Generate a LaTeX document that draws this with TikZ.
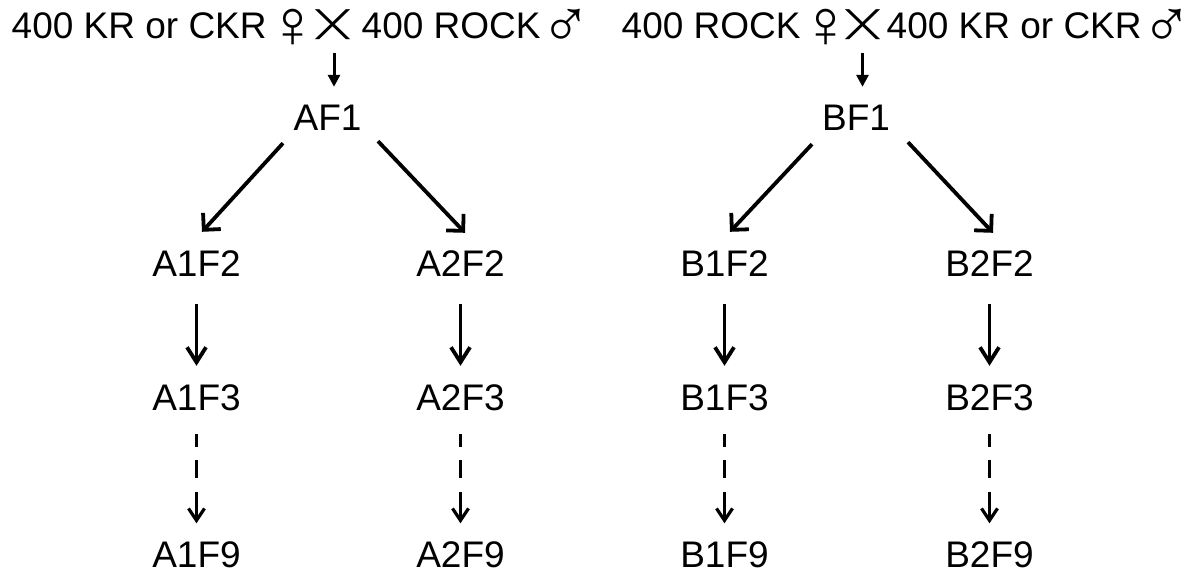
\documentclass[tikz,border=0pt]{standalone}
\usepackage{fontspec}
\usepackage{graphicx}
\setmainfont{Liberation Sans}
\newfontfamily\symfont{DejaVu Sans}
\usetikzlibrary{arrows.meta}
\newcommand\mycross{\resizebox*{31pt}{30pt}{\symfont ╳}}
\newcommand\gsym[1]{\raisebox{-9pt}{\fontsize{68}{70}\selectfont #1}\kern-14pt}
\begin{document}
\begin{tikzpicture}[x=1pt,y=-1pt,
  every node/.style={font=\fontsize{37}{44}\selectfont},
  lbl/.style={inner sep=0pt,anchor=base,text height=26.5pt,text depth=0pt},
  ttl/.style={inner sep=0pt,anchor=base west},
  crs/.style={inner sep=0pt,anchor=center},
  toparr/.style={line width=3pt,-{Triangle[length=12pt,width=12pt]}},
  diagarr/.style={line width=3.8pt,line join=miter,-{Straight Barb[length=12pt,width=24pt,line width=3.8pt]}},
  vertarr/.style={line width=3.8pt,line join=miter,-{Straight Barb[length=15pt,width=19pt,line width=3.8pt]}},
  dasharr/.style={line width=3.2pt,line join=miter,dash pattern=on 13pt off 13pt on 18pt off 14pt on 60pt,
    -{Straight Barb[length=12pt,width=16pt,line width=3.2pt]}}]
\useasboundingbox (0,0) rectangle (1195,575);
% titles
\node[ttl] (tA1) at (11.5,39) {400 KR or CKR\hspace{1pt}\gsym{♀}};
\node[crs] (xA) at (332.5,25) {\mycross};
\node[ttl] (tA2) at (361.5,39) {400 ROCK\hspace{0pt}\gsym{♂}};
\node[ttl] (tB1) at (621.5,39) {400 ROCK\hspace{0pt}\gsym{♀}};
\node[crs] (xB) at (862.5,25) {\mycross};
\node[ttl] (tB2) at (886.5,39) {400 KR or CKR\hspace{0pt}\gsym{♂}};
% generations
\node[lbl] (AF1) at (327.5,131) {AF1};
\node[lbl] (BF1) at (856,131) {BF1};
\node[lbl] (A1F2) at (196.5,276) {A1F2};
\node[lbl] (A2F2) at (460.5,276) {A2F2};
\node[lbl] (B1F2) at (724.5,276) {B1F2};
\node[lbl] (B2F2) at (989.5,276) {B2F2};
\node[lbl] (A1F3) at (196.5,410) {A1F3};
\node[lbl] (A2F3) at (460.5,410) {A2F3};
\node[lbl] (B1F3) at (724.5,410) {B1F3};
\node[lbl] (B2F3) at (989.5,410) {B2F3};
\node[lbl] (A1F9) at (196.5,567) {A1F9};
\node[lbl] (A2F9) at (460.5,567) {A2F9};
\node[lbl] (B1F9) at (724.5,567) {B1F9};
\node[lbl] (B2F9) at (989.5,567) {B2F9};
% arrows
\draw[toparr,shorten <=13pt,shorten >=17.5pt] ([xshift=1.5pt]xA.south) -- ([xshift=1.5pt]xA.south |- AF1.north);
\draw[toparr,shorten <=13pt,shorten >=17.5pt] (xB.south) -- (xB.south |- BF1.north);
\draw[diagarr] ([shift={(-44.5,12)}]AF1.south) -- ([shift={(5.5,-17.5)}]A1F2.north);
\draw[diagarr] ([shift={(50.5,10)}]AF1.south) -- ([shift={(4.5,-16.5)}]A2F2.north);
\draw[diagarr] ([shift={(-44,13)}]BF1.south) -- ([shift={(5.5,-17.5)}]B1F2.north);
\draw[diagarr] ([shift={(52,11)}]BF1.south) -- ([shift={(3.5,-16.5)}]B2F2.north);
\foreach \a/\b in {A1F2/A1F3,A2F2/A2F3,B1F2/B1F3,B2F2/B2F3}
  \draw[vertarr,shorten <=28pt,shorten >=17.5pt] (\a.south) -- (\b.north);
\foreach \a/\b in {A1F3/A1F9,A2F3/A2F9,B1F3/B1F9,B2F3/B2F9}
  \draw[dasharr,shorten <=24pt,shorten >=17pt] (\a.south) -- (\b.north);
\end{tikzpicture}
\end{document}
